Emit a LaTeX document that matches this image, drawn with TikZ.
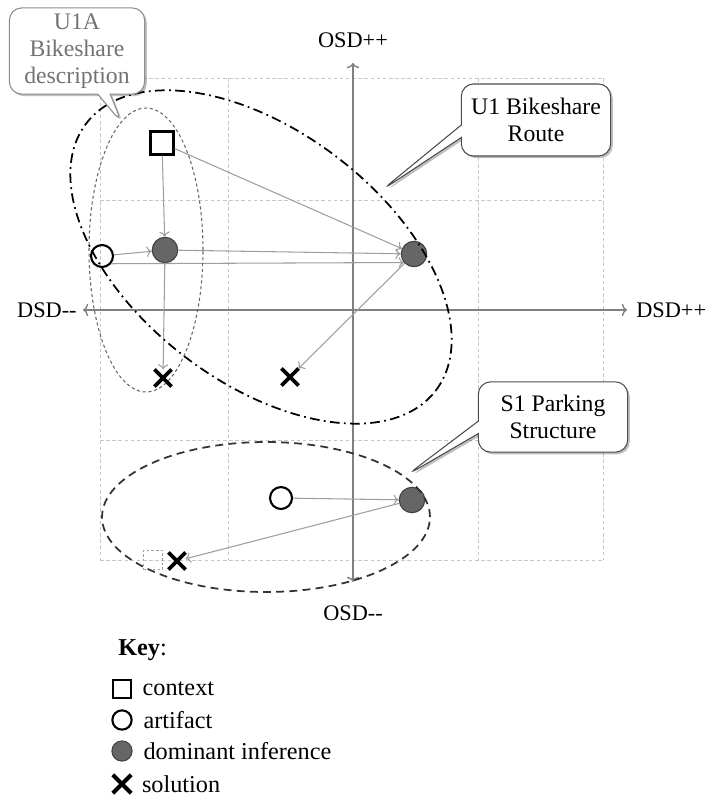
\documentclass[tikz,border=0pt]{standalone}
\usepackage{fontspec}
\setmainfont{Liberation Serif}
\usepackage{xcolor}
\usetikzlibrary{arrows.meta, shapes.misc, shapes.callouts, shadows, positioning}

\definecolor{grigliaC}{gray}{0.78}
\definecolor{frecciaC}{gray}{0.62}
\definecolor{assiC}{gray}{0.5}
\definecolor{dominanteC}{gray}{0.4}

\begin{document}
\begin{tikzpicture}[x = 0.02cm, y = -0.02cm,
    every node/.style = {font = \fontsize{12.7}{15.3}\selectfont},
    contesto/.style = {draw, rectangle, line width = 1.3pt, minimum size = 13pt, inner sep = 0pt},
    artefatto/.style = {draw, circle, line width = 1.2pt, minimum size = 12.5pt, inner sep = 0pt},
    dominante/.style = {draw = black!75, circle, fill = dominanteC, line width = 0.6pt, minimum size = 14.5pt, inner sep = 0pt},
    soluzione/.style = {draw, cross out, line width = 2.2pt, minimum size = 7.5pt, inner sep = 0pt},
    collegamento/.style = {draw = frecciaC, line width = 0.6pt, -{To[length = 3pt, width = 6pt]}},
    nuvoletta/.style = {rectangle callout, draw = black!70, fill = white, rounded corners = 7pt, align = center,
        line width = 0.6pt, font = \fontsize{13.5}{15.5}\selectfont,
        drop shadow = {shadow xshift = 1.2pt, shadow yshift = -1.2pt, fill = black, opacity = 0.25}},
    chiave/.style = {font = \fontsize{13.8}{16}\selectfont, inner sep = 0pt}]
    \useasboundingbox (0,0) rectangle (709,797);
    % Parametri
    \pgfmathsetmacro{\angolo}{-37.4}
    % Griglia tratteggiata
    \foreach \gx in {100, 228, 478, 603}
        \draw[grigliaC, line width = 0.5pt, dash pattern = on 2pt off 1.5pt] (\gx,78) -- (\gx,560);
    \foreach \gy in {78, 200, 440, 560}
        \draw[grigliaC, line width = 0.5pt, dash pattern = on 2pt off 1.5pt] (100,\gy) -- (603,\gy);
    % Assi
    \coordinate (OsdTop) at (353,63);
    \coordinate (OsdBot) at (353,582);
    \coordinate (DsdLeft) at (83,310);
    \coordinate (DsdRight) at (627,310);
    \draw[assiC, line width = 0.8pt, {To[length = 3pt, width = 7pt]}-{To[length = 3pt, width = 7pt]}] (OsdBot) -- (OsdTop);
    \draw[assiC, line width = 0.8pt, {To[length = 3pt, width = 7pt]}-{To[length = 3pt, width = 7pt]}] (DsdLeft) -- (DsdRight);
    \node[inner sep = 0pt] (OsdPiu) at (353,40) {OSD++};
    \node[inner sep = 0pt] (OsdMeno) at (353,613) {OSD-{}-};
    \node[inner sep = 0pt, anchor = east] (DsdMeno) at (77,310) {DSD-{}-};
    \node[inner sep = 0pt, anchor = west] (DsdPiu) at (636,310) {DSD++};
    % Nodi di U1
    \node[contesto] (CtxU1) at (162,143) {};
    \node[artefatto] (ArtU1) at (102,256) {};
    \node[dominante] (DomU1A) at (165,250) {};
    \node[dominante] (DomU1) at (414,254) {};
    \node[soluzione] (SolU1A) at (163,378) {};
    \node[soluzione] (SolU1) at (290,377) {};
    % Nodi di S1
    \node[draw = frecciaC, dash pattern = on 1.5pt off 1.2pt, line width = 0.5pt, minimum size = 11pt, inner sep = 0pt] (CtxS1) at (153,560) {};
    \node[artefatto] (ArtS1) at (281,498) {};
    \node[dominante] (DomS1) at (412,500) {};
    \node[soluzione] (SolS1) at (177,561) {};
    % Implicazioni
    \draw[collegamento] (CtxU1) -- (DomU1A);
    \draw[collegamento] (CtxU1) -- (DomU1);
    \draw[collegamento] (ArtU1) -- (DomU1A);
    \draw[collegamento] (DomU1A) -- (DomU1);
    \draw[collegamento] (ArtU1.-40) -- (DomU1.-140);
    \draw[collegamento] (DomU1A) -- (SolU1A);
    \draw[collegamento] (DomU1) -- (SolU1);
    \draw[collegamento] (ArtS1) -- (DomS1);
    \draw[collegamento] (DomS1) -- (SolS1);
    % Ellissi
    \coordinate (EllU1A) at (146,250);
    \draw[black!60, line width = 0.6pt, dash pattern = on 1.8pt off 1.5pt] (EllU1A) ellipse [x radius = 1.14cm, y radius = 2.84cm];
    \coordinate (EllU1) at (261,257);
    \draw[line width = 1pt, dash pattern = on 5.5pt off 2.5pt on 1pt off 2.5pt, rotate around = {\angolo:(EllU1)}] (EllU1) ellipse [x radius = 4.4cm, y radius = 2.51cm];
    \coordinate (EllS1) at (266,517);
    \draw[black!80, line width = 1pt, dash pattern = on 4.5pt off 3pt] (EllS1) ellipse [x radius = 3.28cm, y radius = 1.5cm];
    % Nuvolette
    \coordinate (PuntaU1A) at (122,123);
    \coordinate (PuntaU1) at (382,190);
    \coordinate (PuntaS1) at (407,475);
    \node[nuvoletta, draw = black!45, text = black!55, minimum width = 77pt, minimum height = 49pt, inner sep = 1pt, callout absolute pointer = {(PuntaU1A)}] (NotaU1A) at (77,51) {U1A\\Bikeshare\\description};
    \node[nuvoletta, minimum width = 85pt, minimum height = 41pt, callout absolute pointer = {(PuntaU1)}] (NotaU1) at (536,120) {U1 Bikeshare\\Route};
    \node[nuvoletta, minimum width = 85pt, minimum height = 40pt, callout absolute pointer = {(PuntaS1)}] (NotaS1) at (553,417) {S1 Parking\\Structure};
    % Legenda
    \node[chiave, anchor = west] (Legenda) at (118,650) {\textbf{Key}:};
    \node[contesto, line width = 1.2pt, minimum size = 10pt] (KeyCtx) at (122,689) {};
    \node[artefatto, minimum size = 11pt] (KeyArt) at (122,720) {};
    \node[dominante, minimum size = 11.5pt] (KeyDom) at (122,751) {};
    \node[soluzione, line width = 2.4pt, minimum size = 8pt] (KeySol) at (122,784) {};
    \node[chiave, right = 6pt of KeyCtx] {context};
    \node[chiave, right = 6pt of KeyArt] {artifact};
    \node[chiave, right = 6pt of KeyDom] {dominant inference};
    \node[chiave, right = 6pt of KeySol] {solution};
\end{tikzpicture}
\end{document}
